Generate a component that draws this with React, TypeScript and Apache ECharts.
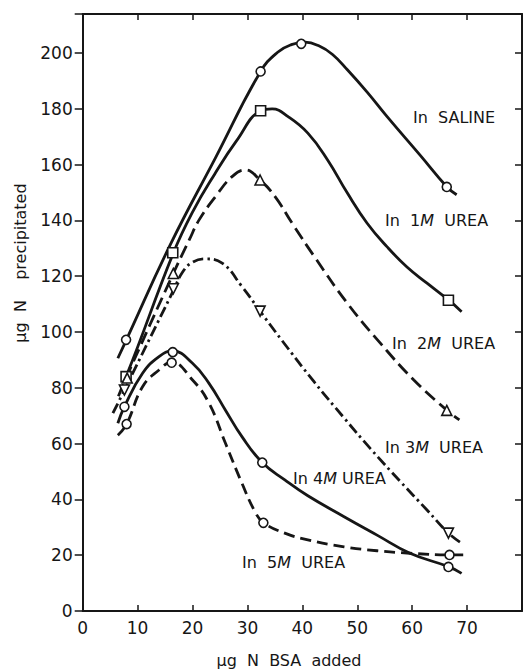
import React, { useEffect, useRef } from "react";
import * as echarts from "echarts";

// ---- data ----
const xTickLabels = [0, 10, 20, 30, 40, 50, 60, 70];
const yTickLabels = [0, 20, 40, 60, 80, 100, 120, 140, 160, 180, 200];

// experimental points
const salinePts = [[7.9, 97.2], [32.4, 193.4], [39.8, 203.3], [66.3, 152.0]];
const urea1Pts = [[7.9, 84.0], [16.4, 128.4], [32.4, 179.3], [66.6, 111.4]];
const urea2Pts = [[8.1, 83.5], [16.5, 121.0], [32.3, 154.5], [66.3, 71.9]];
const urea3Pts = [[7.6, 79.2], [16.5, 115.5], [32.3, 107.5], [66.6, 27.9]];
const urea4Pts = [[7.6, 73.2], [16.4, 92.8], [32.7, 53.2], [66.6, 15.8]];
const urea5Pts = [[8.0, 67.0], [16.2, 89.0], [32.9, 31.6], [66.8, 20.1]];

// hand-drawn fitted curves (traced)
const salineCurve = [[6.4, 90.6], [8, 97.4], [16, 131.5], [24.2, 162.5], [32.4, 193.4], [35.5, 200.3], [38, 203], [40.5, 203.9], [43, 202.6], [45.5, 199.5], [48.2, 194], [51.8, 186], [55.4, 177.3], [61.4, 163.5], [66.3, 152.1], [68.1, 149.2]];
const urea1Curve = [[7.2, 82.5], [8, 84.5], [16.5, 128.3], [20, 143], [24, 156.5], [28, 168.5], [32.4, 179.3], [34.5, 180], [37.4, 177.2], [41, 171.3], [44.6, 161.7], [48.2, 149.8], [51.8, 139], [55.4, 130.6], [59, 123.4], [62.7, 117.5], [66.6, 111.5], [69, 107.3]];
const urea2Curve = [[6.5, 77], [8, 84], [16.5, 121], [19.4, 133], [21.2, 140.2], [24.2, 148.6], [27.2, 155.7], [29.6, 158.1], [32.3, 154.5], [35, 148.6], [38.3, 138.5], [42.2, 127], [48.2, 110.3], [54.2, 96], [60.3, 82.8], [66.3, 72], [68.6, 68.5]];
const urea3Curve = [[5.5, 70.9], [7.6, 79.2], [16.5, 114.8], [18.2, 121.5], [20, 125], [22.4, 126.2], [25.4, 124.7], [29, 116.3], [32.3, 107.5], [36.2, 97.2], [42.2, 82], [47.6, 69.2], [52.4, 58.2], [57.8, 46.5], [62.7, 36.2], [66.6, 27.9], [69, 24.3]];
const urea4Curve = [[6.4, 67.3], [7.6, 73.3], [10.9, 85.2], [13.9, 91.2], [16.4, 93.2], [20, 88.8], [23, 81.6], [26, 72], [29, 62.5], [32.7, 53.2], [36.8, 47], [41, 41.3], [47.6, 33.8], [53.6, 27.2], [59.6, 20.7], [66.6, 15.9], [69, 13.5]];
const urea5Curve = [[6.4, 63], [8, 67], [10.9, 80.4], [13.9, 86.4], [16.2, 89.2], [20, 82.8], [23, 74.5], [26, 60.1], [29, 45.8], [31.4, 35.5], [32.9, 31.7], [36.8, 27.9], [41, 25.5], [47.6, 23], [53.6, 21.6], [59.6, 20.7], [66.8, 20.1], [69.3, 20.1]];

const curveLabels = [
  { pre: "In  SALINE", m: "", post: "" },
  { pre: "In  1", m: "M", post: "  UREA" },
  { pre: "In  2", m: "M", post: "  UREA" },
  { pre: "In 3", m: "M", post: "  UREA" },
  { pre: "In 4", m: "M", post: " UREA" },
  { pre: "In  5", m: "M", post: "  UREA" },
];

const INK = "#161616";
const FONT = "DejaVu Sans";

export default function App() {
  const ref = useRef<HTMLDivElement>(null);

  useEffect(() => {
    document.body.style.margin = "0";
    const chart = echarts.init(ref.current!, undefined, { renderer: "svg" });

    const lineSeries = (data: number[][], type: any, z = 2) => ({
      type: "line",
      data,
      smooth: 0.45,
      showSymbol: false,
      symbol: "none",
      silent: true,
      z,
      lineStyle: { color: INK, width: 2.8, type, cap: "butt" },
    });
    const markSeries = (data: number[][], symbol: string, size: number, rotate = 0) => ({
      type: "scatter",
      data,
      symbol,
      symbolSize: size,
      symbolRotate: rotate,
      z: 5,
      itemStyle: { color: "#ffffff", borderColor: INK, borderWidth: 1.6, opacity: 1 },
    });

    const labelPos = [
      [413, 117], [385, 220], [392, 343], [385, 447], [293, 478], [242, 562],
    ];
    const textEls = curveLabels.map((l, i) => ({
      type: "text",
      x: labelPos[i][0],
      y: labelPos[i][1],
      style: {
        text: `{a|${l.pre}}` + (l.m ? `{i|${l.m}}` : "") + (l.post ? `{a|${l.post}}` : ""),
        verticalAlign: "middle",
        align: "left",
        rich: {
          a: { fontFamily: FONT, fontSize: 16, fill: INK, color: INK },
          i: { fontFamily: FONT, fontSize: 16, fontStyle: "italic", fill: INK, color: INK },
        },
      },
      z: 10,
    }));

    chart.setOption({
      animation: false,
      backgroundColor: "#ffffff",
      grid: { left: 82.7, right: -2, top: 14, bottom: 59, containLabel: false },
      xAxis: [
        {
          type: "value", position: "bottom", min: 0, max: 80, interval: 10,
          axisLine: { show: true, onZero: false, lineStyle: { color: INK, width: 2 } },
          axisTick: { show: true, inside: true, length: 6, lineStyle: { color: INK, width: 1.5 } },
          axisLabel: {
            margin: 8, color: INK, fontFamily: FONT, fontSize: 17,
            formatter: (v: number) => (xTickLabels.includes(v) ? String(v) : ""),
          },
          splitLine: { show: false },
        },
        {
          type: "value", position: "top", min: 0, max: 80, interval: 10,
          axisLine: { show: true, onZero: false, lineStyle: { color: INK, width: 2 } },
          axisTick: { show: true, inside: true, length: 6, lineStyle: { color: INK, width: 1.5 } },
          axisLabel: { show: false },
          splitLine: { show: false },
        },
      ],
      yAxis: [
        {
          type: "value", position: "left", min: 0, max: 214, interval: 20,
          axisLine: { show: true, onZero: false, lineStyle: { color: INK, width: 2 } },
          axisTick: { show: true, inside: false, length: 8, lineStyle: { color: INK, width: 1.5 } },
          axisLabel: {
            margin: 10, color: INK, fontFamily: FONT, fontSize: 17,
            formatter: (v: number) => (yTickLabels.includes(v) ? String(v) : ""),
          },
          splitLine: { show: false },
        },
        {
          type: "value", position: "right", min: 0, max: 214, interval: 20,
          axisLine: { show: true, onZero: false, lineStyle: { color: INK, width: 2 } },
          axisTick: { show: true, inside: true, length: 7, lineStyle: { color: INK, width: 1.5 } },
          axisLabel: { show: false },
          splitLine: { show: false },
        },
      ],
      series: [
        lineSeries(salineCurve, "solid"),
        lineSeries(urea1Curve, "solid"),
        lineSeries(urea2Curve, [13, 6]),
        lineSeries(urea3Curve, [11, 4, 2.5, 4]),
        lineSeries(urea4Curve, "solid"),
        lineSeries(urea5Curve, [11, 6]),
        markSeries(salinePts, "circle", 9),
        markSeries(urea1Pts, "rect", 10),
        markSeries(urea2Pts, "triangle", 10),
        markSeries(urea3Pts, "triangle", 10, 180),
        markSeries(urea4Pts, "circle", 9),
        markSeries(urea5Pts, "circle", 9),
      ],
      graphic: [
        ...textEls,
        {
          type: "text",
          x: 20,
          y: 263,
          rotation: Math.PI / 2,
          style: {
            text: "μg  N    precipitated",
            fontFamily: FONT, fontSize: 16, fill: INK,
            align: "center", verticalAlign: "middle",
          },
        },
        {
          type: "text",
          x: 289,
          y: 660,
          style: {
            text: "μg  N  BSA  added",
            fontFamily: FONT, fontSize: 16, fill: INK,
            align: "center", verticalAlign: "middle",
          },
        },
      ],
    });

    return () => chart.dispose();
  }, []);

  return <div ref={ref} style={{ width: 525, height: 670 }} />;
}
